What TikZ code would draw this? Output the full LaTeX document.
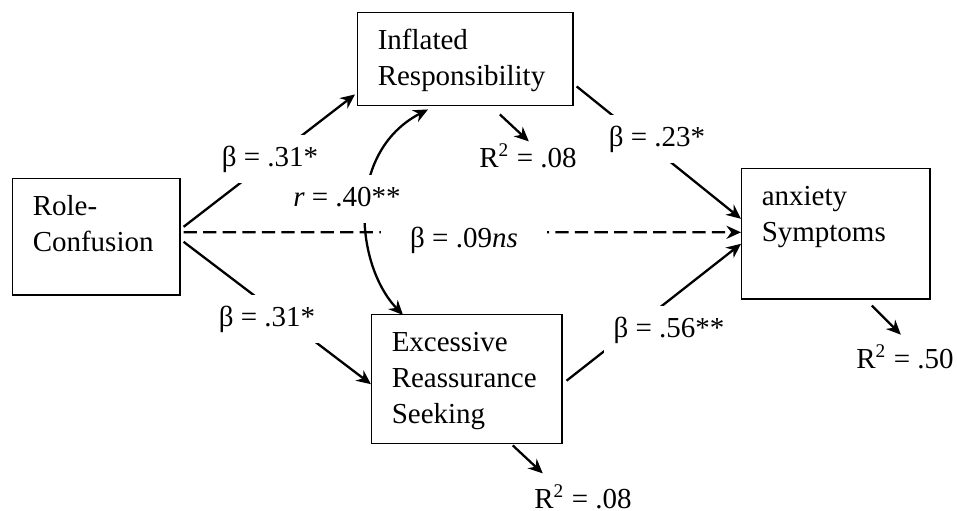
\documentclass[tikz,border=0pt]{standalone}
\usepackage{fontspec}
\setmainfont{Liberation Serif}
\usetikzlibrary{arrows.meta, calc}

\tikzset{
  varbox/.style={draw, line width=0.6pt, anchor=north west, align=left,
    inner xsep=8.3pt, inner ysep=7pt, text height=8.4pt},
  coef/.style={fill=white, inner xsep=4pt, inner ysep=4.5pt, text height=8.6pt, text depth=2.6pt},
  rsq/.style={inner sep=2pt, text height=8.6pt, text depth=2.6pt},
  link/.style={line width=0.95pt, -{Stealth[length=6pt, width=5.4pt]}},
}

\begin{document}
\begin{tikzpicture}[x=0.414pt, y=-0.414pt, font=\fontsize{12}{14.9}\selectfont]
  \useasboundingbox (0,0) rectangle (957,511);

  % variables
  \node[varbox, text width=52.6pt, text depth=25.7pt] (role) at (12,178) {Role-\\Confusion};
  \node[varbox, text width=72.5pt, text depth=16.1pt] (infl) at (357,12) {Inflated\\Responsibility};
  \node[varbox, text width=62.1pt, text depth=31.0pt] (exc) at (371,314) {Excessive\\Reassurance\\Seeking};
  \node[varbox, text width=61.3pt, text depth=31.5pt] (anx) at (741,168) {anxiety\\Symptoms};

  % paths
  \draw[link] ($(role.east)+(3,-10)$) -- ($(infl.south west)+(-2,-12)$);
  \draw[link] ($(role.east)+(3,5)$) -- ($(exc.west)+(0,5)$);
  \draw[link, dash pattern=on 5.5pt off 2.6pt] ($(role.east)+(3,-4.5)$) -- ($(anx.west)+(0,-1.5)$);
  \draw[link] ($(infl.south east)+(3,-20)$) -- ($(anx.west)+(0,-15)$);
  \draw[link] ($(exc.east)+(4,1.5)$) -- ($(anx.west)+(0,10)$);
  \draw[line width=0.95pt, {Stealth[length=6pt, width=5.4pt]}-{Stealth[length=6pt, width=5.4pt]}]
    ($(exc.north west)+(32,1)$) .. controls +(-48,-50) and +(-83,43) .. ($(infl.south west)+(71,3)$);

  % residuals
  \draw[link] ($(infl.south)+(34.5,8)$) -- ++(29,27);
  \draw[link] ($(exc.south)+(46,1)$) -- ++(30,28);
  \draw[link] ($(anx.south)+(36,6)$) -- ++(29,29);

  % coefficients
  \node[coef] (b31a) at (270,159) {β = .31*};
  \node[coef] (b31b) at (267,319) {β = .31*};
  \node[coef] (r40) at (347,199) {\textit{r} = .40**};
  \node[coef, inner xsep=12pt] (b09) at (464,240) {β = .09\textit{ns}};
  \node[coef] (b23) at (657,139) {β = .23*};
  \node[coef] (b56) at (669,330) {β = .56**};
  \node[rsq] (r2infl) at (528,160) {R\textsuperscript{2} = .08};
  \node[rsq] (r2exc) at (583,501) {R\textsuperscript{2} = .08};
  \node[rsq] (r2anx) at (905,361) {R\textsuperscript{2} = .50};
\end{tikzpicture}
\end{document}
